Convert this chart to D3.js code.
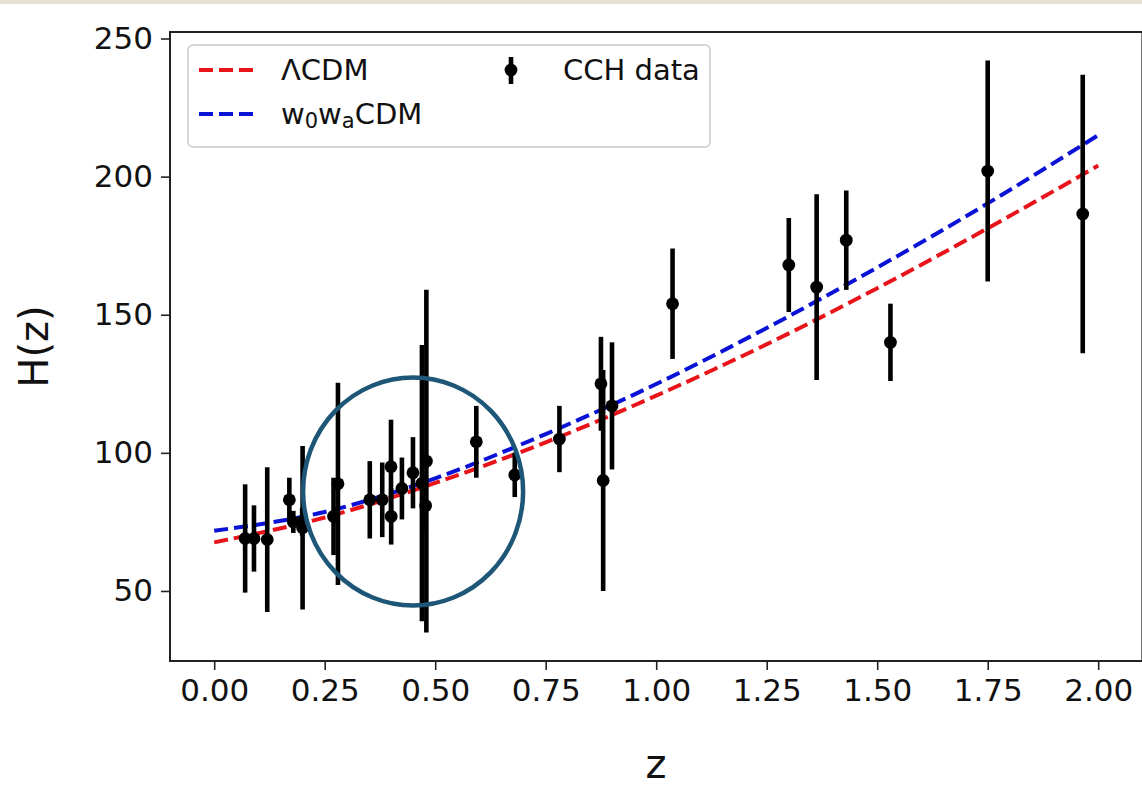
<!DOCTYPE html>
<html>
<head>
<meta charset="utf-8">
<script src="https://cdn.jsdelivr.net/npm/d3@7"></script>
<style>
  html, body { margin: 0; padding: 0; background: #fff; }
  svg { display: block; font-family: "DejaVu Sans", sans-serif; }
</style>
</head>
<body>
<div id="chart"></div>
<script>
!(function(){
    "use strict"

    // cosmic chronometer points
    var zData   = [0.07, 0.09, 0.12, 0.17, 0.179, 0.199, 0.2, 0.27, 0.28, 0.352, 0.3802, 0.4, 0.4004, 0.4247, 0.4497, 0.47, 0.4783, 0.48, 0.593, 0.68, 0.781, 0.875, 0.88, 0.9, 1.037, 1.3, 1.363, 1.43, 1.53, 1.75, 1.965]
    var hData   = [69, 69, 68.6, 83, 75, 75, 72.9, 77, 88.8, 83, 83, 95, 77, 87.1, 92.8, 89, 80.9, 97, 104, 92, 105, 125, 90, 117, 154, 168, 160, 177, 140, 202, 186.5]
    var hErr    = [19.6, 12, 26.2, 8, 4, 5, 29.6, 14, 36.6, 14, 13.5, 17, 10.2, 11.2, 12.9, 50, 9, 62, 13, 8, 12, 17, 40, 23, 20, 17, 33.6, 18, 14, 40, 50.4]

    // model curves
    var zModel  = [0, 0.25, 0.5, 0.75, 1.0, 1.25, 1.5, 1.75, 2.0]
    var hLCDM   = [67.6, 76.6, 89.1, 103.8, 120.7, 139.3, 159.6, 181.3, 204.0]
    var hW0Wa   = [71.8, 78.6, 90.8, 106.8, 124.9, 145.2, 167.1, 190.3, 215.0]

    var xTicks  = [0, 0.25, 0.5, 0.75, 1.0, 1.25, 1.5, 1.75, 2.0]
    var yTicks  = [50, 100, 150, 200, 250]

    var width = 1142, height = 802
    var margin = {top: 32, left: 170}
    var plotW = 972.4, plotH = 629

    var svg = d3.select("#chart").append("svg")
        .attr("width", width).attr("height", height)

    svg.append("rect").attr("x", 0).attr("y", 0)
        .attr("width", width).attr("height", 4)
        .attr("fill", "#e6e0d4")

    var x = d3.scaleLinear().domain([-0.1, 2.1]).range([0, plotW])
    var y = d3.scaleLinear().domain([24.65, 252.35]).range([plotH, 0])

    var g = svg.append("g")
        .attr("transform", "translate(" + [margin.left, margin.top] + ")")

    svg.append("defs").append("clipPath").attr("id", "clip")
        .append("rect").attr("width", plotW).attr("height", plotH)

    // axes
    var xAxis = g.append("g")
        .attr("transform", "translate(0," + plotH + ")")
        .call(d3.axisBottom(x).tickValues(xTicks).tickSize(9).tickPadding(9)
            .tickFormat(d3.format(".2f")))
    var yAxis = g.append("g")
        .call(d3.axisLeft(y).tickValues(yTicks).tickSize(9).tickPadding(8))

    ;[xAxis, yAxis].forEach(function(a) {
        a.select(".domain").remove()
        a.selectAll("line").attr("stroke", "#222").attr("stroke-width", 1.6)
        a.selectAll("text").attr("font-size", 31).attr("fill", "#111")
            .attr("font-family", "DejaVu Sans, sans-serif")
    })

    var plot = g.append("g").attr("clip-path", "url(#clip)")

    var line = d3.line()
        .x(function(d) { return x(d[0]) })
        .y(function(d) { return y(d[1]) })
        .curve(d3.curveMonotoneX)

    var models = [
        {name: "LCDM", color: "#e8141a", vals: hLCDM},
        {name: "w0wa", color: "#0a12d6", vals: hW0Wa}
    ]
    models.forEach(function(m) {
        plot.append("path")
            .datum(zModel.map(function(z, i) { return [z, m.vals[i]] }))
            .attr("d", line)
            .attr("fill", "none")
            .attr("stroke", m.color)
            .attr("stroke-width", 4)
            .attr("stroke-dasharray", "14,6")
    })

    // error bars
    var pts = zData.map(function(z, i) { return {z: z, h: hData[i], e: hErr[i]} })
    plot.selectAll(".ebar").data(pts).enter().append("line")
        .attr("class", "ebar")
        .attr("x1", function(d) { return x(d.z) })
        .attr("x2", function(d) { return x(d.z) })
        .attr("y1", function(d) { return y(d.h - d.e) })
        .attr("y2", function(d) { return y(d.h + d.e) })
        .attr("stroke", "#000").attr("stroke-width", 4.6)
    plot.selectAll(".dot").data(pts).enter().append("circle")
        .attr("class", "dot")
        .attr("cx", function(d) { return x(d.z) })
        .attr("cy", function(d) { return y(d.h) })
        .attr("r", 6.4)
        .attr("fill", "#000")

    // frame
    g.append("rect").attr("width", plotW).attr("height", plotH)
        .attr("fill", "none").attr("stroke", "#222").attr("stroke-width", 2)

    // highlight circle
    g.append("ellipse")
        .attr("cx", x(0.45)).attr("cy", y(86))
        .attr("rx", 110).attr("ry", 114)
        .attr("fill", "none").attr("stroke", "#1d5676").attr("stroke-width", 4.5)

    // axis labels
    svg.append("text")
        .attr("x", margin.left + (width - margin.left) / 2).attr("y", 778)
        .attr("text-anchor", "middle").attr("font-size", 40).attr("fill", "#111")
        .text("z")
    svg.append("text")
        .attr("transform", "translate(48," + (margin.top + plotH / 2) + ") rotate(-90)")
        .attr("text-anchor", "middle").attr("font-size", 40).attr("fill", "#111")
        .text("H(z)")

    // legend
    var lg = svg.append("g").attr("transform", "translate(188,45)")
    lg.append("rect").attr("width", 522).attr("height", 102)
        .attr("rx", 5).attr("fill", "#fff").attr("fill-opacity", 0.85)
        .attr("stroke", "#ccc").attr("stroke-width", 1.5)

    lg.append("line").attr("x1", 11).attr("x2", 69).attr("y1", 25).attr("y2", 25)
        .attr("stroke", models[0].color).attr("stroke-width", 4).attr("stroke-dasharray", "14,6")
    lg.append("line").attr("x1", 11).attr("x2", 69).attr("y1", 69).attr("y2", 69)
        .attr("stroke", models[1].color).attr("stroke-width", 4).attr("stroke-dasharray", "14,6")
    lg.append("text").attr("x", 93).attr("y", 35).attr("font-size", 29).attr("fill", "#111")
        .text("ΛCDM")
    var t2 = lg.append("text").attr("x", 93).attr("y", 79).attr("font-size", 29).attr("fill", "#111")
    t2.append("tspan").text("w")
    t2.append("tspan").attr("font-size", 21).attr("dy", 4).text("0")
    t2.append("tspan").attr("dy", -4).text("w")
    t2.append("tspan").attr("font-size", 21).attr("dy", 4).text("a")
    t2.append("tspan").attr("dy", -4).text("CDM")

    lg.append("line").attr("x1", 323).attr("x2", 323).attr("y1", 12).attr("y2", 39)
        .attr("stroke", "#000").attr("stroke-width", 4.6)
    lg.append("circle").attr("cx", 323).attr("cy", 25).attr("r", 6.4).attr("fill", "#000")
    lg.append("text").attr("x", 375).attr("y", 35).attr("font-size", 29).attr("fill", "#111")
        .text("CCH data")
}());
</script>
</body>
</html>
